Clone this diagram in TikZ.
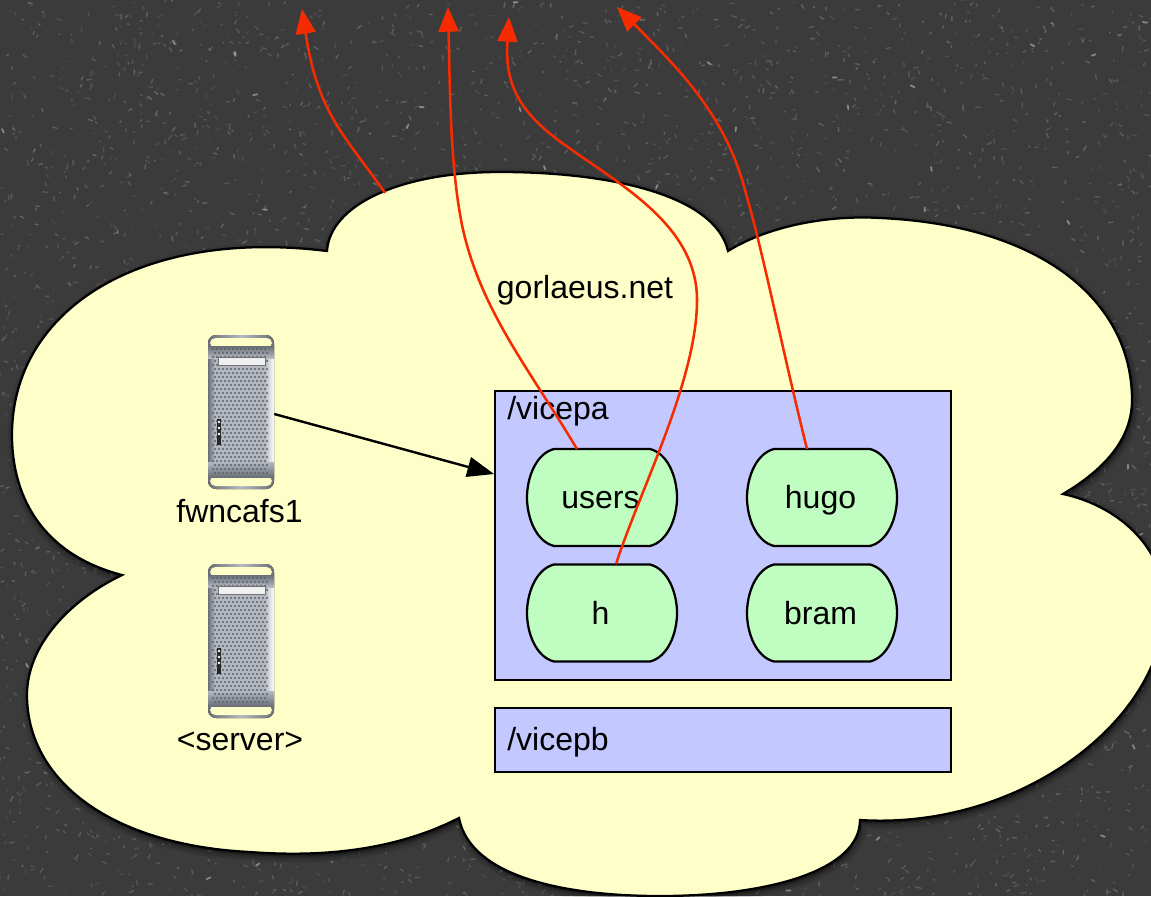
\documentclass[tikz,border=0pt]{standalone}
\usepackage{fontspec}
\setmainfont{Liberation Sans}
\usetikzlibrary{arrows.meta}
\definecolor{bgc}{HTML}{3B3B3C}
\definecolor{cloudc}{HTML}{FDFEC8}
\definecolor{partc}{HTML}{C3C9FF}
\definecolor{volc}{HTML}{C0FDC0}
\definecolor{redc}{HTML}{F62B00}
\definecolor{metaldark}{HTML}{6A6E76}
\definecolor{metalmid}{HTML}{B4B8C0}
\definecolor{metaldot}{HTML}{5C6068}
\tikzset{
  lbl/.style={font=\fontsize{24}{28}\selectfont,text=black,inner sep=0pt},
  partbox/.style={draw=black,fill=partc,line width=1.6pt},
  volshape/.style={draw=black,fill=volc,line width=1.7pt},
  link/.style={draw=redc,line width=1.9pt,-{Triangle[length=18.5pt,width=15pt,fill=redc]}},
  access/.style={draw=black,line width=1.8pt,-{Triangle[length=20pt,width=15pt,fill=black]}},
  srvbox/.style={minimum width=49.5pt,minimum height=115.5pt,inner sep=0pt}
}
\newcommand{\volume}[4]{%
  \path[volshape] (#2-48,#3-48.5) -- (#2+48,#3-48.5)
    .. controls (#2+66,#3-44) and (#2+75,#3-20) .. (#2+75,#3)
    .. controls (#2+75,#3+20) and (#2+66,#3+44) .. (#2+48,#3+48.5)
    -- (#2-48,#3+48.5)
    .. controls (#2-66,#3+44) and (#2-75,#3+20) .. (#2-75,#3)
    .. controls (#2-75,#3-20) and (#2-66,#3-44) .. (#2-48,#3-48.5) -- cycle;
  \node[lbl,anchor=base] (#1) at (#2-1.5,#3+11) {#4};
}
\newcommand{\server}[3]{%
  % #1 name, #2 centre x, #3 centre y
  \fill[rounded corners=6pt,left color=metaldark,right color=metaldark,middle color=metalmid] (#2-33,#3-77) rectangle (#2+33,#3+77);
  \fill[cloudc,rounded corners=4pt] (#2-31,#3-74) rectangle (#2+31,#3-64);
  \fill[cloudc,rounded corners=4pt] (#2-31,#3+64) rectangle (#2+31,#3+74);
  \fill[metalmid] (#2-33,#3-66) rectangle (#2+33,#3+65);
  \shade[left color=metaldark,right color=metalmid] (#2-33,#3-66) rectangle (#2-26,#3+65);
  \shade[left color=metalmid,right color=white] (#2+24,#3-56) rectangle (#2+33,#3+52);
  \shade[top color=metaldark,bottom color=metalmid] (#2-33,#3-66) rectangle (#2+33,#3-54);
  \shade[top color=metalmid,bottom color=metaldark] (#2-33,#3+50) rectangle (#2+33,#3+65);
  \foreach \r in {0,...,31}{
    \pgfmathsetmacro{\off}{mod(\r,2)*2}
    \foreach \c in {0,...,13}{
      \fill[metaldot] (#2-28+\c*4+\off,#3-63+\r*4) circle[radius=1.15];
    }
  }
  \fill[black!6,draw=black!55,line width=.7pt] (#2-23,#3-55) rectangle (#2+24,#3-46.5);
  \fill[black!85] (#2-24,#3+6.5) rectangle (#2-20,#3+33);
  \foreach \d in {10,16,22}{\fill[white] (#2-22,#3+\d) circle[radius=1.3];}
  \node[srvbox] (#1) at (#2,#3) {};
}
\newcommand{\cloudpath}{%
 (327,251)
 .. controls (330,205) and (400,172) .. (500,172)
 .. controls (610,172) and (715,195) .. (728,251)
 .. controls (770,225) and (830,215) .. (880,218)
 .. controls (1040,225) and (1132,300) .. (1132,400)
 .. controls (1132,445) and (1095,475) .. (1063,494)
 .. controls (1115,505) and (1165,545) .. (1165,605)
 .. controls (1165,720) and (1020,830) .. (860,820)
 .. controls (860,870) and (770,896) .. (660,896)
 .. controls (560,896) and (470,875) .. (459,818)
 .. controls (400,848) and (330,858) .. (250,852)
 .. controls (110,845) and (27,780) .. (27,695)
 .. controls (27,645) and (70,600) .. (122,575)
 .. controls (45,555) and (12,500) .. (12,435)
 .. controls (12,310) and (140,228) .. (327,251) -- cycle}
\begin{document}
\begin{tikzpicture}[x=0.75pt,y=-0.75pt]
\useasboundingbox (0,0) rectangle (1151,896);
\clip (0,0) rectangle (1151,896);
\fill[bgc] (0,0) rectangle (1151,896);
\pgfmathsetseed{4242}
\foreach \i in {1,...,5500}{
  \pgfmathsetmacro{\px}{rnd*1151}
  \pgfmathsetmacro{\py}{rnd*896}
  \pgfmathsetmacro{\ang}{rnd*180}
  \pgfmathsetmacro{\len}{1+rnd*4}
  \pgfmathsetmacro{\opac}{0.05+rnd*0.15}
  \draw[white,opacity=\opac,line width=1.1pt,line cap=round]
    (\px,\py) -- ++(\ang:\len);
}
\foreach \i in {1,...,90}{
  \pgfmathsetmacro{\px}{rnd*1151}
  \pgfmathsetmacro{\py}{rnd*896}
  \pgfmathsetmacro{\ang}{rnd*180}
  \draw[white,opacity=.4,line width=1.3pt,line cap=round]
    (\px,\py) -- ++(\ang:4);
}
% cloud soft shadow
\foreach \w/\o in {9/0.07,6/0.09,3/0.12}{
  \draw[black,opacity=\o,line width=\w pt,line join=round,fill=black,shift={(1.5,3)}] \cloudpath;
}
% cloud
\path[draw=black,fill=cloudc,line width=1.7pt] \cloudpath;
% partitions
\node[partbox,minimum width=342pt,minimum height=217pt,inner sep=0pt,anchor=north west] (pa) at (494,390) {};
\node[partbox,minimum width=342pt,minimum height=48pt,inner sep=0pt,anchor=north west] (pb) at (494,707) {};
\node[lbl,anchor=base west] (palabel) at (507,419) {/vicepa};
\node[lbl,anchor=base west] (pblabel) at (507,750) {/vicepb};
% volumes
\volume{users}{602}{497.5}{users}
\volume{hugo}{822}{497.5}{hugo}
\volume{h}{602}{613}{h}
\volume{bram}{822}{613}{bram}
% servers
\server{srvone}{241}{412}
\server{srvtwo}{241}{641}
\node[lbl,anchor=base] (srvonelabel) at (239.5,522) {fwncafs1};
\node[lbl,anchor=base] (srvtwolabel) at (240,750) {<server>};
\node[lbl,anchor=base] (cloudlabel) at (585,298) {gorlaeus.net};
% connector
\coordinate (paentry) at (494,474);
\draw[access] (srvone.east) ++(0,2) -- (paentry);
% red links
\coordinate (cloudtop) at (385,193);
\coordinate (tipa) at (302,9);
\coordinate (tipb) at (448,7);
\coordinate (tipc) at (509,17);
\coordinate (tipd) at (617,7);
\coordinate (usersout) at (577,449);
\coordinate (hout) at (616,564);
\coordinate (hugoout) at (807,449);
\draw[link] (cloudtop) .. controls (345,135) and (318,115) .. (tipa);
\draw[link] (usersout) .. controls (530,370) and (480,310) .. (462,225)
  .. controls (450,165) and (450,90) .. (tipb);
\draw[link] (hout) .. controls (640,490) and (697,380) .. (697,300)
  .. controls (697,225) and (620,185) .. (565,145)
  .. controls (515,110) and (505,80) .. (tipc);
\draw[link] (hugoout) .. controls (780,340) and (765,260) .. (745,190)
  .. controls (725,115) and (680,70) .. (tipd);
\end{tikzpicture}
\end{document}
